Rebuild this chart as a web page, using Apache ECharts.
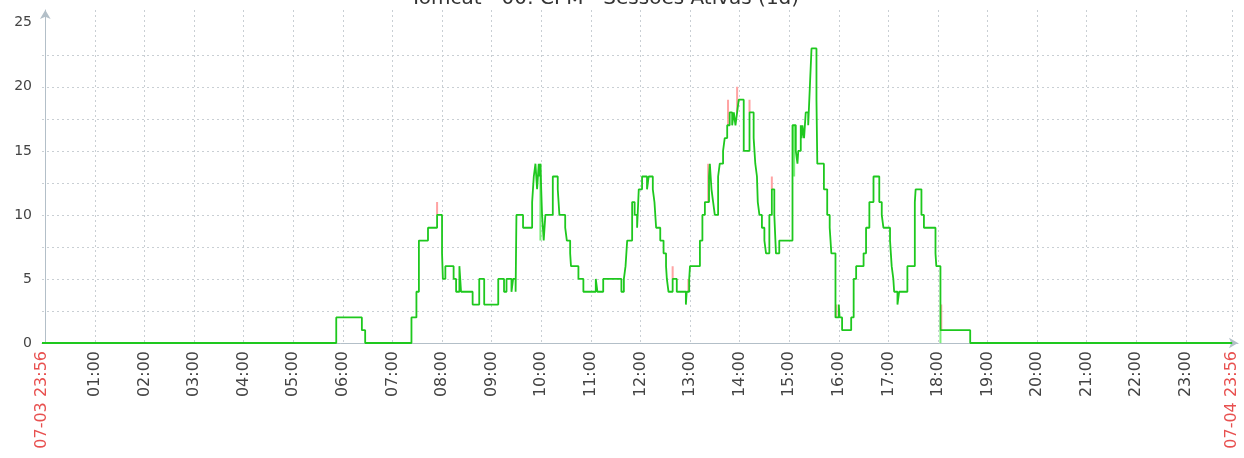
<!DOCTYPE html>
<html>
<head>
<meta charset="utf-8">
<script src="https://cdn.jsdelivr.net/npm/echarts@6/dist/echarts.min.js"></script>
<style>
html, body { margin: 0; padding: 0; background: #fff; }
#main { width: 1244px; height: 458px; }
</style>
</head>
<body>
<div id="main"></div>
<script>
// janela do grafico (1d)
var windowStart = '07-03 23:56';
var windowEnd = '07-04 23:56';
var hourLabels = ['01:00', '02:00', '03:00', '04:00', '05:00', '06:00', '07:00', '08:00',
	'09:00', '10:00', '11:00', '12:00', '13:00', '14:00', '15:00', '16:00', '17:00',
	'18:00', '19:00', '20:00', '21:00', '22:00', '23:00'];

// sessoes ativas (media), degrau a partir de cada horario
var avgTimes = ['00:00', '05:52', '06:23', '06:27', '07:23', '07:29', '07:32', '07:43', '07:54',
	'08:00', '08:01', '08:04', '08:14', '08:17', '08:21', '08:23', '08:37', '08:45', '08:51',
	'09:08', '09:15', '09:18', '09:24', '09:26', '09:29', '09:30', '09:38', '09:49', '09:51',
	'09:53', '09:55', '09:57', '09:58', '09:59', '10:01', '10:03', '10:05', '10:14', '10:20',
	'10:22', '10:29', '10:31', '10:35', '10:36', '10:45', '10:51', '11:06', '11:08', '11:15',
	'11:37', '11:40', '11:42', '11:44', '11:50', '11:53', '11:56', '11:58', '12:02', '12:08',
	'12:10', '12:15', '12:17', '12:19', '12:24', '12:28', '12:31', '12:32', '12:34', '12:39',
	'12:44', '12:55', '12:56', '12:59', '13:00', '13:12', '13:15', '13:18', '13:23', '13:24',
	'13:26', '13:28', '13:30', '13:34', '13:36', '13:40', '13:42', '13:45', '13:48', '13:51',
	'13:53', '13:55', '13:57', '13:59', '14:05', '14:12', '14:17', '14:19', '14:21', '14:22',
	'14:24', '14:27', '14:30', '14:32', '14:36', '14:39', '14:42', '14:44', '14:48', '15:04',
	'15:08', '15:10', '15:11', '15:14', '15:15', '15:16', '15:18', '15:20', '15:23', '15:25',
	'15:27', '15:33', '15:34', '15:42', '15:46', '15:49', '15:50', '15:51', '15:56', '16:00',
	'16:01', '16:04', '16:15', '16:18', '16:21', '16:30', '16:33', '16:37', '16:42', '16:49',
	'16:52', '16:54', '17:02', '17:03', '17:04', '17:06', '17:07', '17:11', '17:13', '17:23',
	'17:32', '17:33', '17:40', '17:43', '17:57', '17:58', '18:03', '18:39'];
var avgValues = [0, 2, 1, 0, 2, 4, 8, 9, 10,
	7, 5, 6, 5, 4, 6, 4, 3, 5, 3,
	5, 4, 5, 4, 5, 4, 10, 9, 11, 13,
	14, 12, 14, 13, 14, 10, 8, 10, 13, 12,
	10, 9, 8, 7, 6, 5, 4, 5, 4, 5,
	4, 5, 6, 8, 11, 10, 9, 12, 13, 12,
	13, 12, 11, 9, 8, 7, 6, 5, 4, 5,
	4, 3, 4, 5, 6, 8, 10, 11, 13, 14,
	12, 11, 10, 13, 14, 15, 16, 17, 18, 17,
	18, 17, 18, 19, 15, 18, 16, 14, 13, 11,
	10, 9, 8, 7, 10, 12, 10, 7, 8, 17,
	15, 14, 15, 17, 16, 17, 16, 18, 17, 20,
	23, 19, 14, 12, 10, 9, 8, 7, 2, 3,
	2, 1, 2, 5, 6, 7, 9, 11, 13, 11,
	10, 9, 8, 7, 6, 5, 4, 3, 4, 6,
	11, 12, 10, 9, 7, 6, 1, 0];

// picos de maximo e minimo
var maxTimes = ['07:54', '12:26', '12:39', '12:58', '13:22', '13:46', '13:57', '14:12', '14:39', '15:57', '18:04'];
var maxValues = [11, 8, 6, 5, 14, 19, 20, 19, 13, 3, 3];
var minTimes = ['09:59', '14:33', '14:45', '15:06', '15:13', '17:11', '18:03'];
var minValues = [8, 7, 7, 13, 15, 3, 0];

function toMin(s) {
	var p = s.split(' ');
	var hm = p[p.length - 1].split(':');
	var m = parseInt(hm[0], 10) * 60 + parseInt(hm[1], 10);
	if (p.length > 1 && p[0] === windowStart.split(' ')[0]) m -= 1440;
	return m;
}

var startMin = toMin(windowStart);
var endMin = toMin(windowEnd);

var avgData = [[startMin, 0]];
for (var i = 0; i < avgTimes.length; i++) {
	avgData.push([toMin(avgTimes[i]), avgValues[i]]);
}
avgData.push([endMin, 0]);

function avgAt(m) {
	var v = 0;
	for (var k = 0; k < avgData.length; k++) {
		if (avgData[k][0] <= m) v = avgData[k][1];
	}
	return v;
}

function spikes(times, values) {
	var out = [];
	for (var k = 0; k < times.length; k++) {
		var m = toMin(times[k]);
		out.push([m, avgAt(m)], [m, values[k]], '-');
	}
	return out;
}

var xMarks = [startMin].concat(hourLabels.map(toMin)).concat([endMin]);

var grey = '#c9cfd4';
var e = document.getElementById('main');
var myChart = echarts.init(e);
myChart.setOption({
	animation : false,
	textStyle : { fontFamily : 'DejaVu Sans' },
	title : {
		text : 'Tomcat - 00: CPM - Sessões Ativas (1d)',
		left : 405,
		top : -16,
		textStyle : { fontSize : 20, fontWeight : 'normal', color : '#333', fontFamily : 'DejaVu Sans' }
	},
	grid : { left : 42, right : 6, top : 10, bottom : 115 },
	xAxis : {
		type : 'value',
		min : startMin,
		max : endMin + 7,
		axisLine : {
			symbol : ['none', 'arrow'],
			symbolSize : [8, 9],
			lineStyle : { color : '#b3bfc8', width : 1 }
		},
		axisTick : { show : false, customValues : xMarks },
		splitLine : {
			show : true,
			showMinLine : false,
			lineStyle : { color : grey, type : [2, 3] }
		},
		axisLabel : {
			customValues : xMarks,
			rotate : 90,
			margin : 8,
			fontSize : 16,
			color : '#444',
			formatter : function(v) {
				if (v === startMin) return '{r|' + windowStart + '}';
				if (v === endMin) return '{r|' + windowEnd + '}';
				var h = Math.floor(v / 60);
				return (h < 10 ? '0' : '') + h + ':00';
			},
			rich : { r : { color : '#e8504f', fontSize : 16 } }
		}
	},
	yAxis : {
		type : 'value',
		min : 0,
		max : 26,
		interval : 2.5,
		axisLine : {
			show : true,
			symbol : ['none', 'arrow'],
			symbolSize : [8, 9],
			lineStyle : { color : '#b3bfc8', width : 1 }
		},
		axisTick : { show : false },
		splitLine : {
			show : true,
			showMinLine : false,
			showMaxLine : false,
			lineStyle : {
				color : [grey, grey, grey, grey, grey, grey, grey, grey, grey, 'rgba(0,0,0,0)', 'rgba(0,0,0,0)'],
				type : [2, 3]
			}
		},
		axisLabel : {
			fontSize : 14,
			color : '#444',
			margin : 10,
			formatter : function(v) {
				return (v % 5 === 0 && v <= 25) ? String(v) : '';
			}
		}
	},
	series : [ {
		name : 'max',
		type : 'line',
		showSymbol : false,
		data : spikes(maxTimes, maxValues),
		lineStyle : { color : '#ffa3a3', width : 2 },
		itemStyle : { color : '#ffa3a3' },
		z : 1
	}, {
		name : 'min',
		type : 'line',
		showSymbol : false,
		data : spikes(minTimes, minValues),
		lineStyle : { color : '#7cf07c', width : 2 },
		itemStyle : { color : '#7cf07c' },
		z : 1
	}, {
		name : 'avg',
		type : 'line',
		step : 'end',
		showSymbol : false,
		data : avgData,
		lineStyle : { color : '#1ec81e', width : 1.8 },
		itemStyle : { color : '#1ec81e' },
		z : 3
	} ]
});
</script>
</body>
</html>
